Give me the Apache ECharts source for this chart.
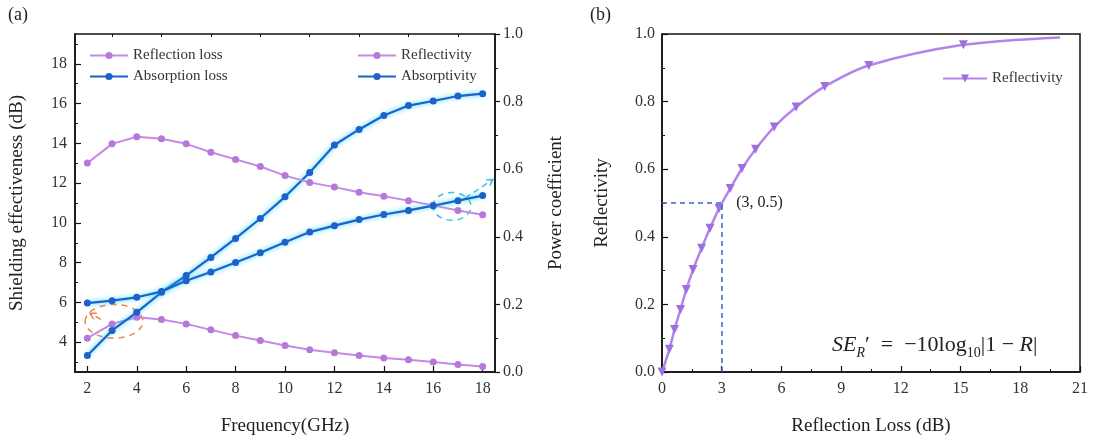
<!DOCTYPE html>
<html><head><meta charset="utf-8">
<script src="https://cdn.jsdelivr.net/npm/echarts@6/dist/echarts.min.js"></script>
<style>html,body{margin:0;padding:0;background:#fff}#c{width:1094px;height:441px}</style>
</head><body><div id="c"></div>
<script>
// ---- data (panel a) ----
const freq = [2,3,4,5,6,7,8,9,10,11,12,13,14,15,16,17,18];
const reflectionLoss = [4.2,4.92,5.25,5.14,4.92,4.62,4.33,4.08,3.83,3.62,3.47,3.33,3.2,3.12,3.0,2.88,2.78];
const absorptionLoss = [3.33,4.59,5.5,6.51,7.35,8.26,9.22,10.22,11.31,12.53,13.92,14.7,15.4,15.9,16.13,16.38,16.5];
const reflectivity = [0.618,0.675,0.696,0.69,0.675,0.65,0.629,0.608,0.581,0.561,0.547,0.532,0.52,0.507,0.493,0.478,0.465];
const absorptivity = [0.204,0.211,0.221,0.238,0.27,0.296,0.324,0.353,0.384,0.414,0.433,0.451,0.466,0.478,0.492,0.507,0.522];
const seTicks = [4,6,8,10,12,14,16,18];
const seMinor = [3,5,7,9,11,13,15,17,19];
const freqTicks = [2,4,6,8,10,12,14,16,18];
const freqMinor = [3,5,7,9,11,13,15,17];
// ---- data (panel b) ----
const rlLoss = [0,0.37,0.63,0.93,1.22,1.56,1.99,2.41,2.87,3.43,4.02,4.70,5.64,6.74,8.18,10.39,15.14,20.0];
const rlRefl = [0,0.067,0.126,0.185,0.244,0.303,0.366,0.425,0.484,0.543,0.602,0.659,0.725,0.784,0.845,0.907,0.968,0.99];
const rlMarked = [1,1,1,1,1,1,1,1,1,1,1,1,1,1,1,1,1,0];
const markX = 3, markY = 0.5;

const FONT = 'Liberation Serif';
const PURPLE = '#c58ae3', PURPLE_M = '#b778d8';
const BLUE = '#1d62c8';
const chart = echarts.init(document.getElementById('c'));

const pair = (xs, ys) => xs.map((x,i)=>[x, ys[i]]);
const bData = rlLoss.map((x,i)=> rlMarked[i] ? [x, rlRefl[i]] : {value:[x, rlRefl[i]], symbol:'none'});

const axLabel = {color:'#333', fontFamily:FONT, fontSize:16};
const nameStyle = {color:'#222', fontFamily:FONT, fontSize:19};
const blueLine = {color:BLUE, width:2.2, shadowColor:'rgba(0,210,255,0.9)', shadowBlur:5};

chart.setOption({
  animation:false,
  textStyle:{fontFamily:FONT},
  grid:[
    {left:75, top:34, width:420, height:339, show:true, borderColor:'#111', borderWidth:1.5, backgroundColor:'transparent'},
    {left:662, top:34, width:418, height:338, show:true, borderColor:'#111', borderWidth:1.5, backgroundColor:'transparent'}
  ],
  xAxis:[
    {type:'value', gridIndex:0, min:1.5, max:18.5, name:'Frequency(GHz)', nameLocation:'middle', nameGap:45, nameTextStyle:nameStyle,
     axisLine:{lineStyle:{color:'#111', width:1.5}}, splitLine:{show:false},
     axisTick:{inside:true, length:6, customValues:freqTicks, lineStyle:{color:'#111', width:1.2}},
     axisLabel:Object.assign({customValues:freqTicks, margin:9}, axLabel)},
    {type:'value', gridIndex:0, min:1.5, max:18.5, axisLine:{show:false}, splitLine:{show:false}, axisLabel:{show:false},
     axisTick:{inside:true, length:3, customValues:freqMinor, lineStyle:{color:'#111', width:1}}},
    {type:'value', gridIndex:1, min:0, max:21, interval:3, name:'Reflection Loss (dB)', nameLocation:'middle', nameGap:45, nameTextStyle:nameStyle,
     axisLine:{lineStyle:{color:'#111', width:1.5}}, splitLine:{show:false},
     axisTick:{inside:true, length:6, lineStyle:{color:'#111', width:1.2}},
     minorTick:{show:true, splitNumber:2, length:3, lineStyle:{color:'#111'}}, minorSplitLine:{show:false},
     axisLabel:Object.assign({margin:9}, axLabel)}
  ],
  yAxis:[
    {type:'value', gridIndex:0, position:'left', min:2.5, max:19.5, name:'Shielding effectiveness (dB)', nameLocation:'middle', nameGap:48, nameRotate:90, nameTextStyle:nameStyle,
     axisLine:{show:true, lineStyle:{color:'#111', width:1.5}}, splitLine:{show:false},
     axisTick:{inside:true, length:6, customValues:seTicks, lineStyle:{color:'#111', width:1.2}},
     axisLabel:Object.assign({customValues:seTicks, margin:8}, axLabel)},
    {type:'value', gridIndex:0, position:'left', min:2.5, max:19.5, axisLine:{show:false}, splitLine:{show:false}, axisLabel:{show:false},
     axisTick:{inside:true, length:3, customValues:seMinor, lineStyle:{color:'#111', width:1}}},
    {type:'value', gridIndex:0, position:'right', min:0, max:1, interval:0.2, name:'Power coefficient', nameLocation:'middle', nameGap:52, nameRotate:90, nameTextStyle:nameStyle,
     axisLine:{show:true, lineStyle:{color:'#111', width:1.5}}, splitLine:{show:false},
     axisTick:{show:true, inside:false, length:5, lineStyle:{color:'#111', width:1.2}},
     minorTick:{show:true, splitNumber:2, length:3, lineStyle:{color:'#111'}}, minorSplitLine:{show:false},
     axisLabel:Object.assign({margin:8, formatter:v=>v.toFixed(1)}, axLabel)},
    {type:'value', gridIndex:1, min:0, max:1, interval:0.2, name:'Reflectivity', nameLocation:'middle', nameGap:50, nameRotate:90, nameTextStyle:nameStyle,
     axisLine:{show:true, lineStyle:{color:'#111', width:1.5}}, splitLine:{show:false},
     axisTick:{inside:true, length:6, lineStyle:{color:'#111', width:1.2}},
     minorTick:{show:true, splitNumber:2, length:3, lineStyle:{color:'#111'}}, minorSplitLine:{show:false},
     axisLabel:Object.assign({margin:7, formatter:v=>v.toFixed(1)}, axLabel)}
  ],
  legend:[
    {data:['Reflection loss','Absorption loss'], orient:'vertical', left:84, top:43, itemWidth:38, itemHeight:9, itemGap:6,
     textStyle:{fontFamily:FONT, fontSize:15, color:'#333'}},
    {data:['Reflectivity','Absorptivity'], orient:'vertical', left:352, top:43, itemWidth:38, itemHeight:9, itemGap:6,
     textStyle:{fontFamily:FONT, fontSize:15, color:'#333'}},
    {data:['Reflectivity (b)'], left:937, top:66, itemWidth:44, itemHeight:10,
     formatter:()=> 'Reflectivity', textStyle:{fontFamily:FONT, fontSize:15, color:'#333'}}
  ],
  series:[
    {name:'Reflection loss', type:'line', xAxisIndex:0, yAxisIndex:0, data:pair(freq, reflectionLoss),
     symbol:'circle', symbolSize:7, lineStyle:{color:PURPLE, width:2}, itemStyle:{color:PURPLE_M}},
    {name:'Absorption loss', type:'line', xAxisIndex:0, yAxisIndex:0, data:pair(freq, absorptionLoss),
     symbol:'circle', symbolSize:7, lineStyle:blueLine, itemStyle:{color:BLUE}},
    {name:'Reflectivity', type:'line', xAxisIndex:0, yAxisIndex:2, data:pair(freq, reflectivity),
     symbol:'circle', symbolSize:7, lineStyle:{color:PURPLE, width:2}, itemStyle:{color:PURPLE_M}},
    {name:'Absorptivity', type:'line', xAxisIndex:0, yAxisIndex:2, data:pair(freq, absorptivity),
     symbol:'circle', symbolSize:7, lineStyle:blueLine, itemStyle:{color:BLUE}},
    {name:'Reflectivity (b)', type:'line', xAxisIndex:2, yAxisIndex:3, data:bData, smooth:0.3,
     symbol:'triangle', symbolRotate:180, symbolSize:9, lineStyle:{color:'#b385ea', width:2.5}, itemStyle:{color:'#9d6fdf'},
     markLine:{silent:true, symbol:'none', label:{show:false}, lineStyle:{color:'#3b62c8', type:[5,4], width:1.5},
       data:[[{coord:[0,markY]},{coord:[markX,markY]}],[{coord:[markX,0]},{coord:[markX,markY]}]]},
     markPoint:{silent:true, symbol:'circle', symbolSize:1, itemStyle:{color:'transparent'},
       label:{show:true, position:'right', distance:14, formatter:'(3, 0.5)', color:'#222', fontFamily:FONT, fontSize:16},
       data:[{coord:[markX,markY]}]}}
  ]
});

// annotations (dashed ellipses + arrows) and text
const p = (x,y,yi)=> chart.convertToPixel({xAxisIndex:0, yAxisIndex:yi}, [x,y]);
const oc = p(3.08, 5.05, 0), oe = p(4.25, 5.9, 0);
const cc = p(16.76, 0.49, 2), ce = p(17.53, 0.531, 2);
const o1 = p(2.1, 5.45, 0), o2 = p(2.55, 5.15, 0);
const c1 = p(17.3, 0.515, 2), c2 = p(18.42, 0.57, 2);
function arrowHead(tip, from, color){
  const ang = Math.atan2(tip[1]-from[1], tip[0]-from[0]), L = 7;
  return {type:'polyline', silent:true, shape:{points:[
    [tip[0]-L*Math.cos(ang-0.5), tip[1]-L*Math.sin(ang-0.5)], tip,
    [tip[0]-L*Math.cos(ang+0.5), tip[1]-L*Math.sin(ang+0.5)]]}, style:{stroke:color, lineWidth:1.5, fill:null}};
}
const ORANGE = '#f0824a', CYAN = '#3cc6d6';
chart.setOption({graphic:[
  {type:'ellipse', silent:true, shape:{cx:oc[0], cy:oc[1], rx:Math.abs(oe[0]-oc[0]), ry:Math.abs(oe[1]-oc[1])},
   style:{stroke:ORANGE, lineWidth:1.5, lineDash:[6,5], fill:null}},
  {type:'line', silent:true, shape:{x1:o2[0], y1:o2[1], x2:o1[0], y2:o1[1]}, style:{stroke:ORANGE, lineWidth:1.5, lineDash:[6,4]}},
  arrowHead(o1, o2, ORANGE),
  {type:'ellipse', silent:true, shape:{cx:cc[0], cy:cc[1], rx:Math.abs(ce[0]-cc[0]), ry:Math.abs(ce[1]-cc[1])},
   style:{stroke:CYAN, lineWidth:1.5, lineDash:[6,5], fill:null}},
  {type:'line', silent:true, shape:{x1:c1[0], y1:c1[1], x2:c2[0], y2:c2[1]}, style:{stroke:CYAN, lineWidth:1.5, lineDash:[6,4]}},
  arrowHead(c2, c1, CYAN),
  {type:'text', left:8, top:6, style:{text:'(a)', fontFamily:FONT, fontSize:18, fill:'#222'}},
  {type:'text', left:590, top:6, style:{text:'(b)', fontFamily:FONT, fontSize:18, fill:'#222'}},
  {type:'text', left:832, top:334, style:{
    text:'{i|SE}{s|R}{n|′  =  −10log}{sn|10}{n||1 − }{i|R}{n||}',
    fontFamily:FONT, fontSize:22, fill:'#222',
    rich:{
      i:{fontFamily:FONT, fontStyle:'italic', fontSize:22, lineHeight:30, verticalAlign:'middle', fill:'#222'},
      n:{fontFamily:FONT, fontSize:22, lineHeight:30, verticalAlign:'middle', fill:'#222'},
      s:{fontFamily:FONT, fontStyle:'italic', fontSize:14, lineHeight:30, verticalAlign:'bottom', padding:[10,0,0,0], fill:'#222'},
      sn:{fontFamily:FONT, fontSize:14, lineHeight:30, verticalAlign:'bottom', padding:[10,0,0,0], fill:'#222'}
    }}}
]});
</script></body></html>
